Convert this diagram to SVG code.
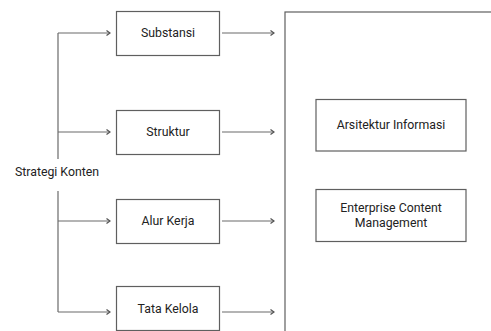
<svg xmlns="http://www.w3.org/2000/svg" width="491" height="331" viewBox="0 0 491 331">
<defs>
<style>
.box{fill:#fff;stroke:#5f5f5f;stroke-width:1.2}
.ln{fill:none;stroke:#6a6a6a;stroke-width:1.2}
.t{font-family:Roboto,"Liberation Sans",sans-serif;font-size:12.3px;fill:#222;text-anchor:middle;dominant-baseline:central}
</style>
<marker id="ah" markerWidth="6" markerHeight="8" refX="5" refY="4" orient="auto" markerUnits="userSpaceOnUse">
<path d="M1.5,1.5 L5,4 L1.5,6.5" fill="none" stroke="#555" stroke-width="1.3"/>
</marker>
</defs>
<rect width="491" height="331" fill="#fff"/>
<g id="container">
<rect class="box" x="285" y="12" width="220" height="330"/>
</g>
<g id="connectors">
<path class="ln" d="M58,159 V33"/>
<path class="ln" d="M58,191 V312"/>
<path class="ln" d="M58,33 H110" marker-end="url(#ah)"/>
<path class="ln" d="M58,132 H110" marker-end="url(#ah)"/>
<path class="ln" d="M58,221 H110" marker-end="url(#ah)"/>
<path class="ln" d="M58,312 H110" marker-end="url(#ah)"/>
<path class="ln" d="M222,33 H274" marker-end="url(#ah)"/>
<path class="ln" d="M222,132 H274" marker-end="url(#ah)"/>
<path class="ln" d="M222,221 H274" marker-end="url(#ah)"/>
<path class="ln" d="M222,312 H274" marker-end="url(#ah)"/>
</g>
<g id="strategi">
<text class="t" x="57" y="172">Strategi Konten</text>
</g>
<g id="substansi">
<rect class="box" x="116.5" y="11.5" width="103" height="44"/>
<text class="t" x="168" y="33">Substansi</text>
</g>
<g id="struktur">
<rect class="box" x="116.5" y="110.5" width="103" height="44"/>
<text class="t" x="168" y="132">Struktur</text>
</g>
<g id="alurkerja">
<rect class="box" x="116.5" y="199.5" width="103" height="44"/>
<text class="t" x="168" y="221">Alur Kerja</text>
</g>
<g id="tatakelola">
<rect class="box" x="116.5" y="286.5" width="103" height="44"/>
<text class="t" x="168" y="309">Tata Kelola</text>
</g>
<g id="arsitektur">
<rect class="box" x="316" y="99.5" width="150" height="51.5"/>
<text class="t" x="391" y="125">Arsitektur Informasi</text>
</g>
<g id="ecm">
<rect class="box" x="316" y="189.5" width="150" height="52"/>
<text class="t" x="391" y="208">Enterprise Content</text>
<text class="t" x="391" y="222.5">Management</text>
</g>
</svg>
